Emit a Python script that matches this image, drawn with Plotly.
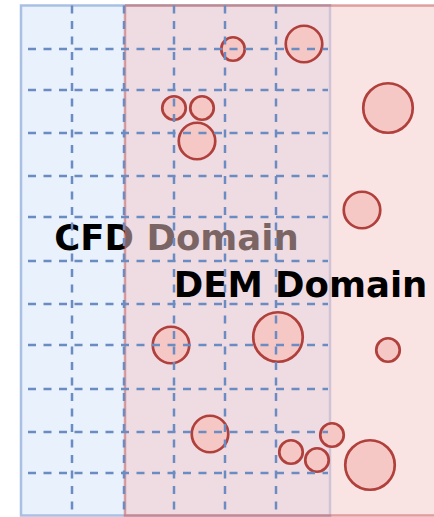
import plotly.graph_objects as go

# sketch is laid out in pixel units, y grows downward
W, H = 434, 517

# domain boxes: x0, x1, y0, y1
cfd_box = [21, 330, 5.5, 515.5]
dem_box = [125, 440, 5.5, 515.5]

# dashed CFD mesh lines
grid_x = [72, 124, 174, 225, 276]
grid_y = [49, 90, 133, 176, 217, 261, 304, 345, 389, 432, 473]
grid_x_span = [28, 328]

# DEM particles: centre and outer diameter
particle_x = [233, 304, 388, 174, 202, 197, 362, 171, 278, 388, 210, 291, 317, 332, 370]
particle_y = [49, 44, 108, 108, 108, 141, 210, 345, 337, 350, 434, 452, 460, 435, 465]
particle_d = [26, 39, 52, 26, 26, 39, 39, 39, 52, 26, 39, 26, 26, 26, 52]

labels = ["CFD Domain", "DEM Domain"]
label_x = [176.5, 300.5]
label_y = [241, 288]

GRID_COLOR = "#6b8cc2"
LINE_W = 2.5
LABEL_FONT = dict(family="DejaVu Sans", size=35.5, color="black", weight="bold")

fig = go.Figure()

# CFD label sits under the DEM box, so the overlap tints it
fig.add_trace(go.Scatter(
    x=[label_x[0]], y=[label_y[0]], mode="text", text=[labels[0]],
    textposition="middle center", textfont=LABEL_FONT, hoverinfo="skip",
))

x0, x1, y0, y1 = dem_box
fig.add_trace(go.Scatter(
    x=[x0, x1, x1, x0, x0], y=[y0, y0, y1, y1, y0],
    mode="lines", fill="toself",
    fillcolor="rgba(246,200,200,0.5)",
    line=dict(color="rgba(192,80,77,0.5)", width=2.5),
    hoverinfo="skip",
))

fig.add_trace(go.Scatter(
    x=[label_x[1]], y=[label_y[1]], mode="text", text=[labels[1]],
    textposition="middle center", textfont=LABEL_FONT, hoverinfo="skip",
))

fig.add_trace(go.Scatter(
    x=particle_x, y=particle_y, mode="markers",
    marker=dict(
        size=[d - LINE_W for d in particle_d],
        color="#f5c8c6",
        opacity=1,
        line=dict(color="#b0403c", width=2.7),
    ),
    hoverinfo="skip",
))

shapes = [dict(
    type="rect", layer="below", xref="x", yref="y",
    x0=cfd_box[0], x1=cfd_box[1], y0=cfd_box[2], y1=cfd_box[3],
    fillcolor="#e9f1fc", line=dict(color="#a9c0e2", width=2.5),
)]
for gx in grid_x:
    shapes.append(dict(
        type="line", layer="above", xref="x", yref="y",
        x0=gx, x1=gx, y0=cfd_box[2], y1=cfd_box[3],
        line=dict(color=GRID_COLOR, width=LINE_W, dash="8px,7.5px"),
    ))
for gy in grid_y:
    shapes.append(dict(
        type="line", layer="above", xref="x", yref="y",
        x0=grid_x_span[0], x1=grid_x_span[1], y0=gy, y1=gy,
        line=dict(color=GRID_COLOR, width=LINE_W, dash="8px,7.5px"),
    ))

fig.update_layout(
    width=W, height=H, autosize=False,
    margin=dict(l=0, r=0, t=0, b=0, pad=0),
    paper_bgcolor="white", plot_bgcolor="white",
    showlegend=False,
    shapes=shapes,
    xaxis=dict(range=[0, W], visible=False, fixedrange=True),
    yaxis=dict(range=[H, 0], visible=False, fixedrange=True),
)

fig.write_html(
    "out.html",
    config={"displayModeBar": False, "staticPlot": True},
    post_script="document.body.style.margin='0';",
)
